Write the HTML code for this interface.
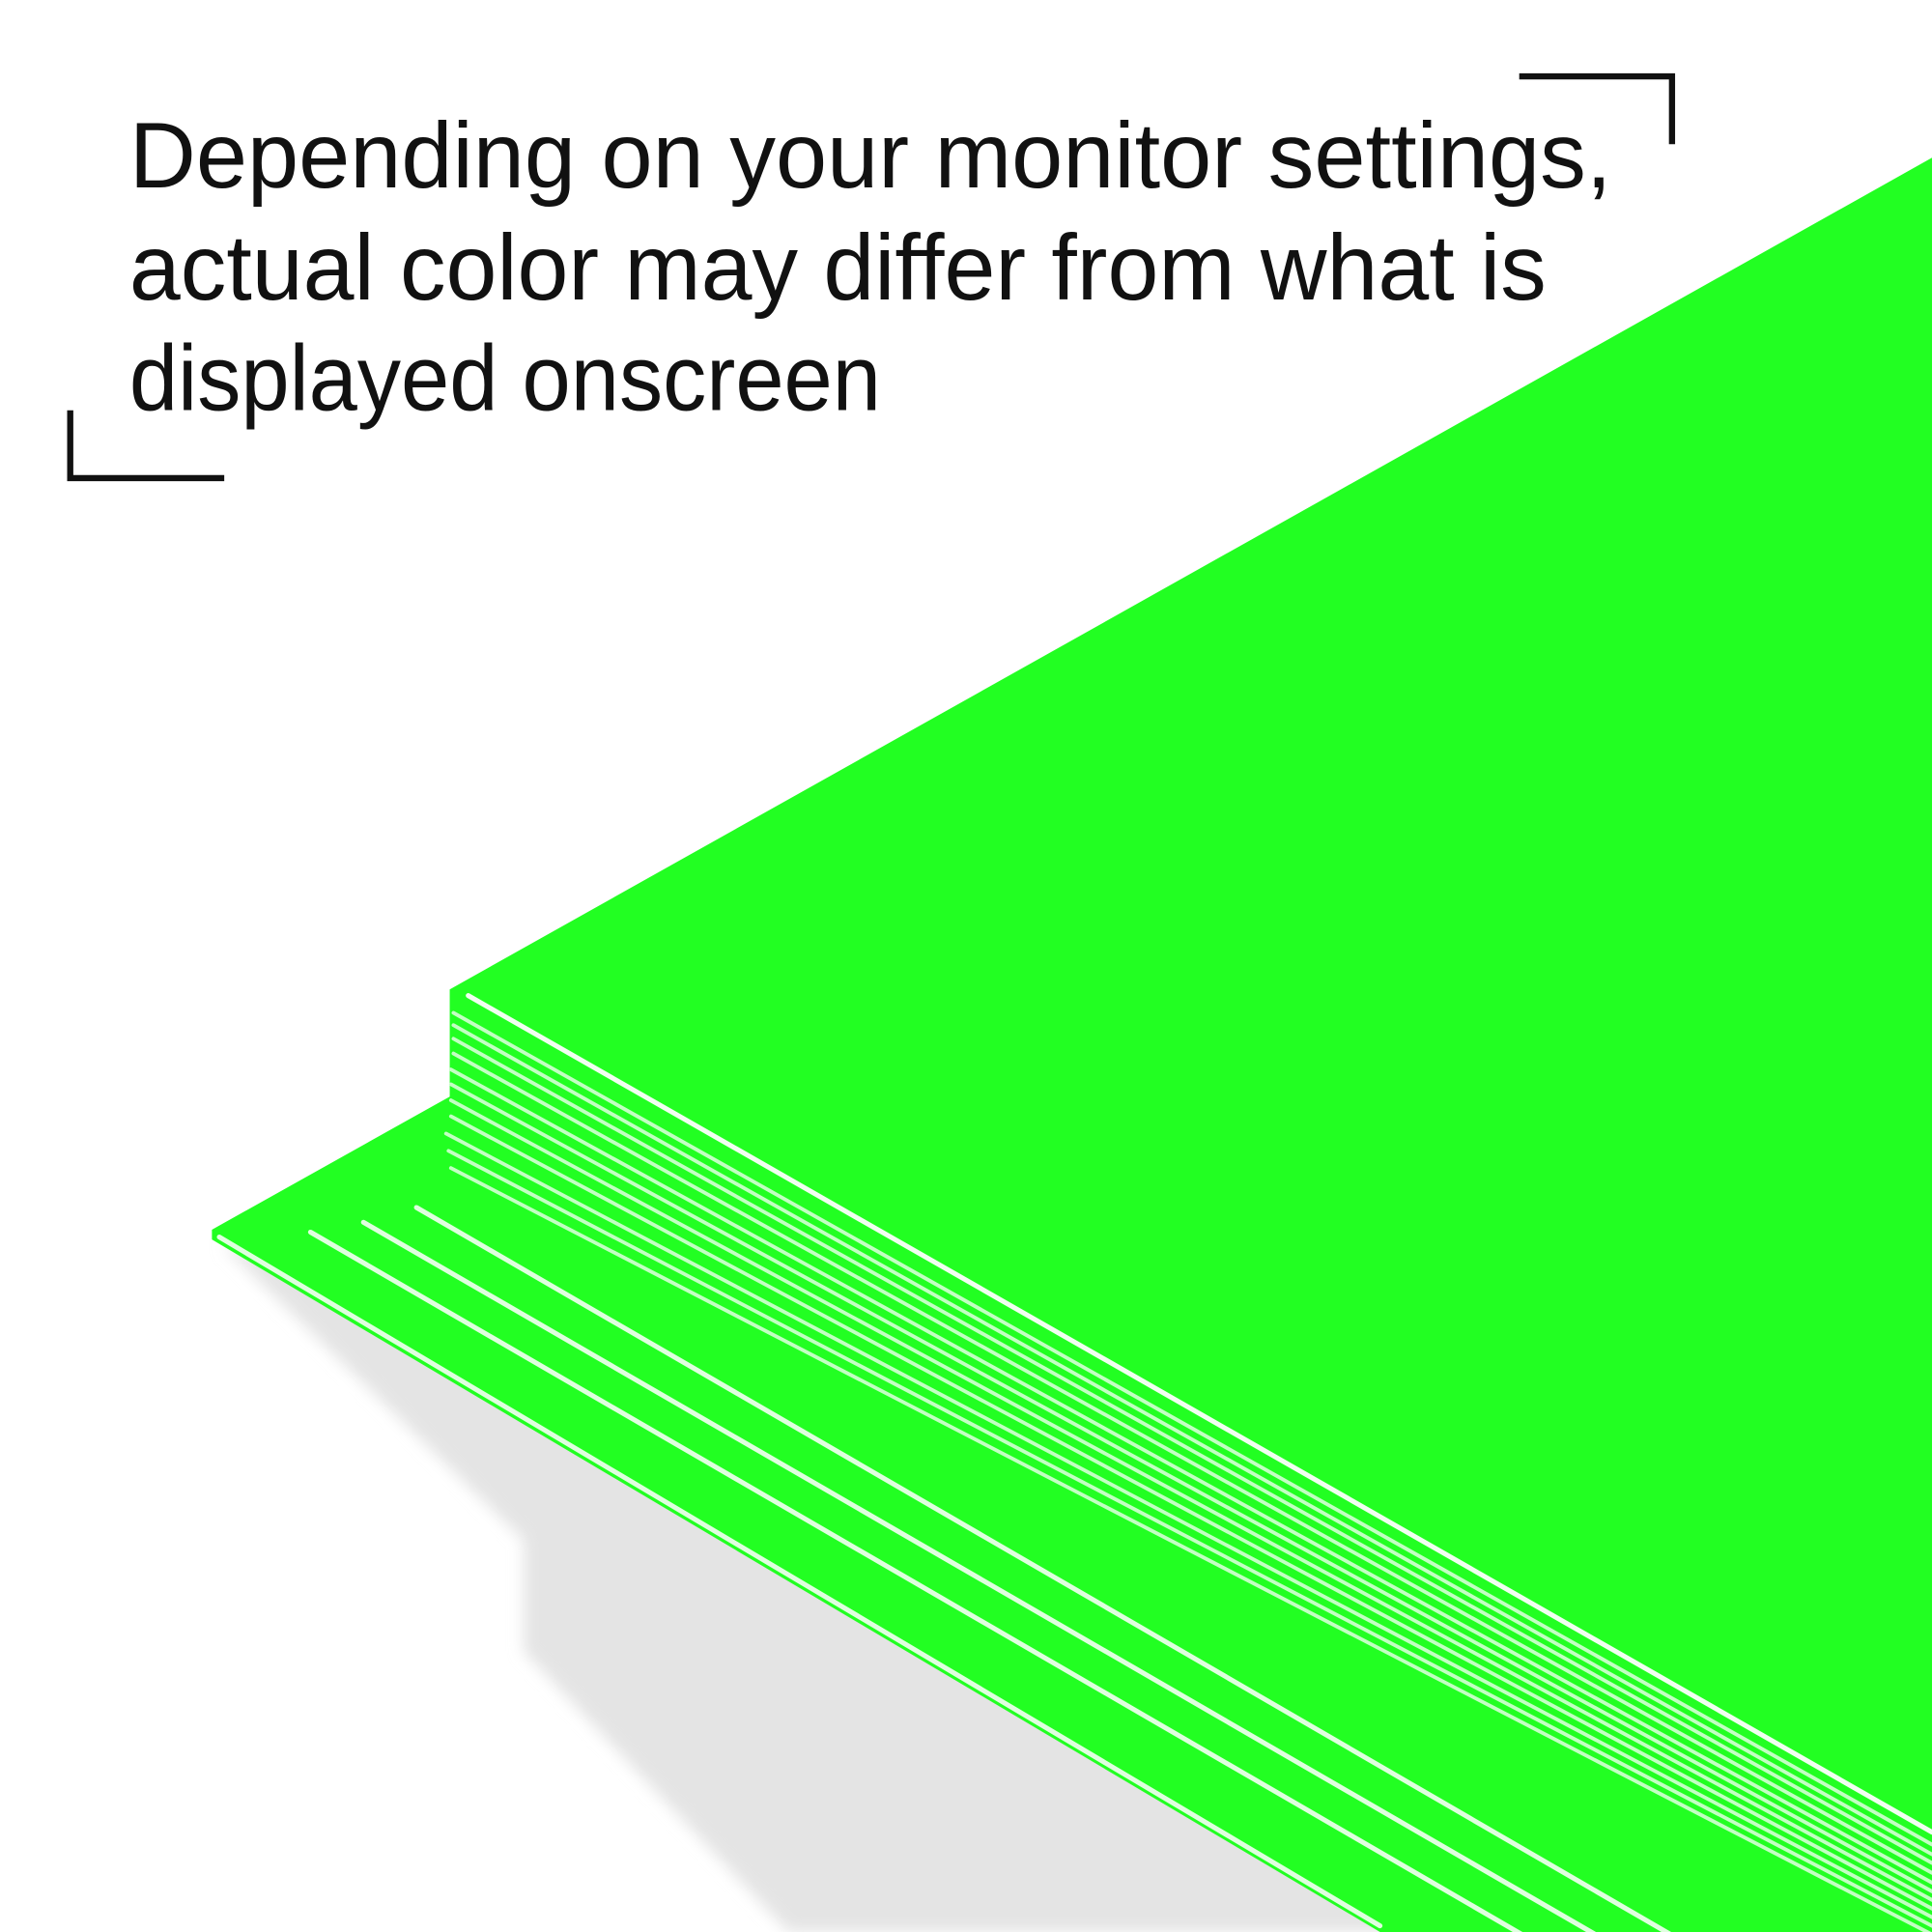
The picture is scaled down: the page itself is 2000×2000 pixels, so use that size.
<!DOCTYPE html>
<html><head><meta charset="utf-8"><style>html,body{margin:0;padding:0;background:#fff;width:2000px;height:2000px;overflow:hidden}svg{display:block;overflow:hidden}</style></head>
<body>
<svg width="2000" height="2000" viewBox="0 0 1568 1568" xmlns="http://www.w3.org/2000/svg">
<defs><filter id="b" x="-10%" y="-10%" width="120%" height="120%"><feGaussianBlur stdDeviation="6"/></filter></defs>
<rect width="1568" height="1568" fill="#fff"/>
<polygon points="180,1010 425,1250 425,1340 640,1568 1568,1568 1568,1400" fill="#e4e4e4" filter="url(#b)"/>
<polygon points="172,998 365,890 365,803 1568,128 1568,1568 1120,1568 172,1006" fill="#22ff22"/>
<g fill="none" stroke-linecap="round">
<line x1="380" y1="808" x2="1568" y2="1487" stroke="#f2fff2" stroke-width="4"/>
<g stroke="#c4ffc4" stroke-width="3">
<line x1="368" y1="822" x2="1568" y2="1497"/>
<line x1="368" y1="832" x2="1568" y2="1505"/>
<line x1="368" y1="843" x2="1568" y2="1512"/>
<line x1="368" y1="855" x2="1568" y2="1520"/>
<line x1="366" y1="868" x2="1568" y2="1528"/>
<line x1="366" y1="880" x2="1568" y2="1535"/>
<line x1="366" y1="893" x2="1568" y2="1542"/>
<line x1="366" y1="906" x2="1568" y2="1549"/>
<line x1="362" y1="920" x2="1568" y2="1556"/>
<line x1="364" y1="934" x2="1568" y2="1563"/>
<line x1="366" y1="948" x2="1568" y2="1570"/>
</g>
<g stroke="#e0ffe0" stroke-width="4">
<line x1="338" y1="980" x2="1568" y2="1693"/>
<line x1="295" y1="992" x2="1568" y2="1728"/>
<line x1="252" y1="1000" x2="1568" y2="1763"/>
<line x1="178" y1="1004" x2="1120" y2="1563"/>
</g>
</g>
<g fill="#111" font-family="Liberation Sans, sans-serif" font-size="76">
<text x="105" y="152" textLength="1203" lengthAdjust="spacingAndGlyphs">Depending on your monitor settings,</text>
<text x="105" y="243" textLength="1150" lengthAdjust="spacingAndGlyphs">actual color may differ from what is</text>
<text x="105" y="333" textLength="610" lengthAdjust="spacingAndGlyphs">displayed onscreen</text>
</g>
<polyline points="1233,62 1357,62 1357,117" fill="none" stroke="#111" stroke-width="5"/>
<polyline points="57,333 57,388 182,388" fill="none" stroke="#111" stroke-width="5"/>
</svg>
</body></html>
